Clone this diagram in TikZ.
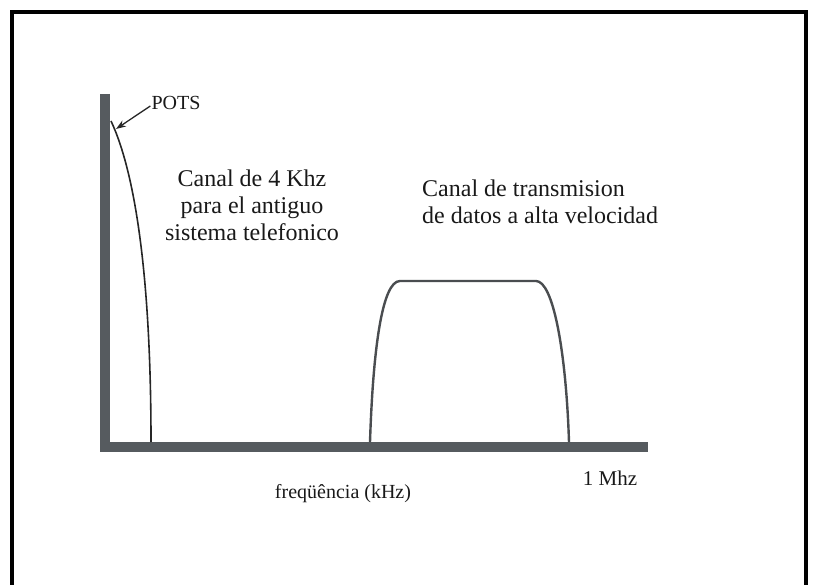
\documentclass[tikz,border=0pt]{standalone}
\usepackage{fontspec}
\setmainfont{Liberation Serif}
\usetikzlibrary{arrows.meta}
\definecolor{axisgray}{HTML}{565B5F}
\definecolor{bandgray}{HTML}{4A4D50}
\begin{document}
\begin{tikzpicture}[x=1pt, y=-1pt]
    \tikzstyle{frame} = [line width=4pt, draw=black]
    \tikzstyle{axis} = [line width=10pt, draw=axisgray, line join=miter]
    \tikzstyle{curve} = [line width=1.6pt, draw=black!85]
    \tikzstyle{band} = [line width=2.4pt, draw=bandgray, line join=round]
    \tikzstyle{lbl} = [text=black!90, inner sep=1pt, font=\fontsize{24}{27}\selectfont]
    \tikzstyle{small} = [text=black!90, inner sep=1pt, font=\fontsize{20}{24}\selectfont]
    \tikzstyle{arrow} = [line width=1.3pt, draw=black!85, -{Stealth[length=10pt, width=7pt]}]

    \useasboundingbox (0,0) rectangle (819,585);

    % Frame (bottom edge is outside the picture)
    \draw [frame] (12,585) -- (12,12) -- (806,12) -- (806,585);

    % Axes
    \draw [axis] (105,94) -- (105,447) -- (648,447);

    % POTS channel
    \draw [curve] (111,121) .. controls (134,170) and (151,270) .. (151,442);
    \coordinate (potstip) at (116,129);

    % High speed channel
    \draw [band] (370,442) .. controls (373,350) and (382,281) .. (400,281)
        -- (536,281) .. controls (553,281) and (566,350) .. (569,442);

    % Labels
    \node [small] (pots) at (176,103) {POTS};
    \node [lbl, align=center] (chan4) at (252,205) {Canal de 4 Khz\\para el antiguo\\sistema telefonico};
    \node [lbl, align=left, anchor=west] (chanhs) at (421,202) {Canal de transmision\\de datos a alta velocidad};
    \node [small, font=\fontsize{21}{24}\selectfont] (mhz) at (610,478) {1 Mhz};
    \node [small] (freq) at (343,494) {freqüência (kHz)};

    \draw [arrow] ([yshift=-3pt]pots.west) -- (potstip);
\end{tikzpicture}
\end{document}
